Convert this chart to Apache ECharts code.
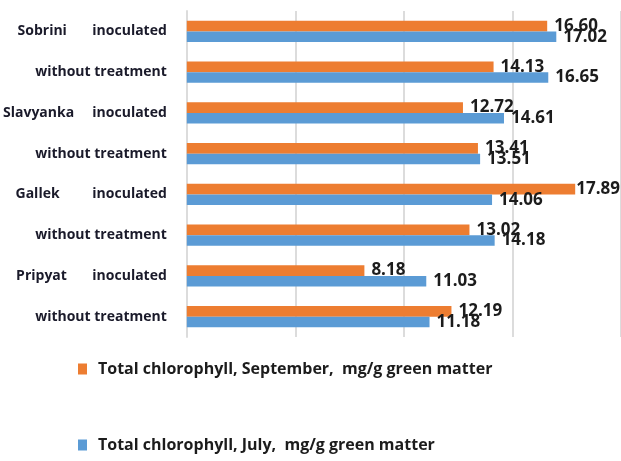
<!DOCTYPE html>
<html>
<head>
<meta charset="utf-8">
<script src="https://cdn.jsdelivr.net/npm/echarts@6/dist/echarts.min.js"></script>
<style>
  html, body { margin: 0; padding: 0; background: #fff; }
  #chart { width: 621px; height: 461px; }
</style>
</head>
<body>
<div id="chart"></div>
<script>
// categories, top to bottom as in the picture
var categories = [
  'Sobrini       inoculated',
  'without treatment',
  'Slavyanka     inoculated',
  'without treatment',
  'Gallek         inoculated',
  'without treatment',
  'Pripyat       inoculated',
  'without treatment'
]
var septemberName = 'Total chlorophyll, September,  mg/g green matter'
var julyName = 'Total chlorophyll, July,  mg/g green matter'
var september = [16.60, 14.13, 12.72, 13.41, 17.89, 13.02, 8.18, 12.19]
var july = [17.02, 16.65, 14.61, 13.51, 14.06, 14.18, 11.03, 11.18]

var myChart = echarts.init(document.getElementById('chart'))

var labelStyle = {
  show: true,
  position: 'right',
  distance: 7,
  fontFamily: 'Open Sans',
  fontWeight: 'bold',
  fontSize: 17,
  color: '#1c1c1c',
  formatter: function (p) { return p.value.toFixed(2) }
}

// the longest bar's label is pulled in so it stays inside the picture
function toData(arr) {
  return arr.map(function (v) {
    return v > 17.5 ? { value: v, label: { distance: 1 } } : v
  })
}

var legendText = { fontFamily: 'Open Sans', fontWeight: 'bold', fontSize: 16, color: '#1c1c1c' }

var option = {
  animation: false,
  grid: { left: 184, right: -3, top: 11, bottom: 124 },
  legend: [
    {
      data: [septemberName],
      left: 73, top: 356,
      icon: 'rect', itemWidth: 9, itemHeight: 11,
      textStyle: Object.assign({ padding: [0, 0, 0, 6] }, legendText)
    },
    {
      data: [julyName],
      left: 73, top: 432,
      icon: 'rect', itemWidth: 9, itemHeight: 11,
      textStyle: Object.assign({ padding: [17, 0, 0, 6] }, legendText)
    }
  ],
  xAxis: {
    type: 'value',
    min: 0, max: 20, interval: 5,
    axisLabel: { show: false },
    axisLine: { show: false },
    axisTick: { show: false },
    splitLine: { lineStyle: { color: '#dcdcdc', width: 2 } }
  },
  yAxis: {
    type: 'category',
    inverse: true,
    data: categories,
    axisTick: { show: false },
    axisLine: { lineStyle: { color: '#dcdcdc', width: 2 } },
    axisLabel: {
      margin: 20,
      fontFamily: 'Open Sans',
      fontWeight: 'bold',
      fontSize: 14,
      color: '#1a1a2a'
    }
  },
  series: [
    {
      name: septemberName,
      type: 'bar',
      data: toData(september),
      barGap: '0%',
      barCategoryGap: '48%',
      itemStyle: { color: '#ED7D31' },
      label: labelStyle
    },
    {
      name: julyName,
      type: 'bar',
      data: toData(july),
      barGap: '0%',
      barCategoryGap: '48%',
      itemStyle: { color: '#5B9BD5' },
      label: labelStyle
    }
  ]
}

myChart.setOption(option)
</script>
</body>
</html>
